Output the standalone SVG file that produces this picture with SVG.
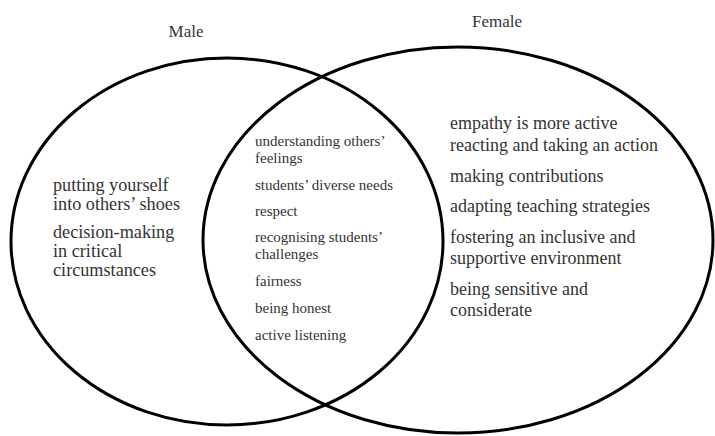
<svg xmlns="http://www.w3.org/2000/svg" width="715" height="436" viewBox="0 0 715 436">
  <style>
    .set { fill: none; stroke: #000; stroke-width: 3; }
  </style>
  <rect width="715" height="436" fill="#fff"/>

  <!-- set outlines -->
  <g id="sets">
    <ellipse id="male-set" class="set" cx="227" cy="241.5" rx="216" ry="183.5"/>
    <ellipse id="female-set" class="set" cx="458" cy="240" rx="255" ry="193"/>
  </g>

  <g font-family="Liberation Serif, Times New Roman, Times, serif" fill="#333">
    <!-- set titles -->
    <g id="male-title" font-size="17">
      <text x="186" y="37" text-anchor="middle">Male</text>
    </g>
    <g id="female-title" font-size="17">
      <text x="497" y="27" text-anchor="middle">Female</text>
    </g>

    <!-- male only -->
    <g id="male-only" font-size="18.2">
      <text x="53" y="191">putting yourself</text>
      <text x="53" y="210">into others’ shoes</text>
      <text x="53" y="238">decision-making</text>
      <text x="53" y="257">in critical</text>
      <text x="53" y="276">circumstances</text>
    </g>

    <!-- shared -->
    <g id="shared" font-size="15">
      <text x="255" y="146">understanding others’</text>
      <text x="255" y="163">feelings</text>
      <text x="255" y="190">students’ diverse needs</text>
      <text x="255" y="216">respect</text>
      <text x="255" y="242">recognising students’</text>
      <text x="255" y="259">challenges</text>
      <text x="255" y="286">fairness</text>
      <text x="255" y="313">being honest</text>
      <text x="255" y="340">active listening</text>
    </g>

    <!-- female only -->
    <g id="female-only" font-size="18">
      <text x="450" y="129">empathy is more active</text>
      <text x="450" y="151">reacting and taking an action</text>
      <text x="450" y="182">making contributions</text>
      <text x="450" y="212">adapting teaching strategies</text>
      <text x="450" y="243">fostering an inclusive and</text>
      <text x="450" y="264">supportive environment</text>
      <text x="450" y="295">being sensitive and</text>
      <text x="450" y="316">considerate</text>
    </g>
  </g>
</svg>
